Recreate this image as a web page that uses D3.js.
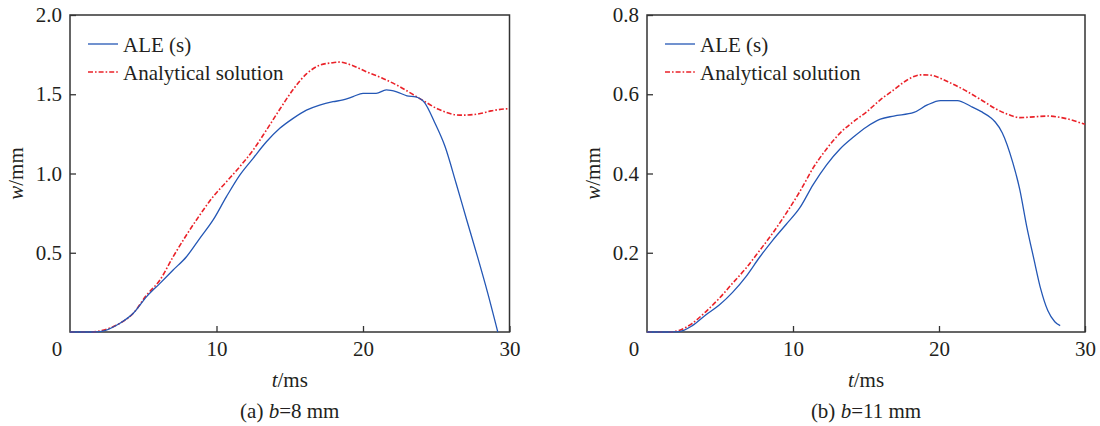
<!DOCTYPE html>
<html>
<head>
<meta charset="utf-8">
<script src="https://cdn.jsdelivr.net/npm/d3@7"></script>
<style>
  html, body { margin: 0; padding: 0; background: #fff; }
  svg { display: block; font-family: "Liberation Serif", "Times New Roman", serif; }
</style>
</head>
<body>
<svg id="chart" width="1100" height="426"></svg>
<script>
// Panel (a): b = 8 mm
const aleTimeA = [0, 1.5, 2.05, 3.41, 4.32, 5.23, 6.14, 7.04, 7.95, 8.86, 9.77, 10.68, 11.59, 12.5, 13.41, 14.32, 15.23, 16.14, 17.04, 17.95, 18.64, 19.32, 20.0, 20.9, 21.59, 22.3, 23.0, 23.6, 24.2, 24.9, 25.6, 26.35, 27.07, 27.8, 28.5, 29.2];
const aleValA  = [0, 0, 0.002, 0.055, 0.118, 0.223, 0.307, 0.391, 0.475, 0.591, 0.707, 0.854, 0.99, 1.096, 1.2, 1.285, 1.348, 1.40, 1.432, 1.453, 1.464, 1.485, 1.506, 1.506, 1.527, 1.515, 1.49, 1.483, 1.447, 1.32, 1.17, 0.94, 0.71, 0.48, 0.25, 0];
const anaTimeA = [0, 1.5, 2.05, 3.41, 4.32, 5.23, 6.14, 7.04, 7.95, 8.86, 9.77, 10.68, 11.59, 12.5, 13.41, 14.32, 15.23, 16.14, 17.04, 17.95, 18.4, 19.32, 20.23, 21.36, 22.5, 23.96, 25.16, 26.35, 26.8, 28.0, 28.75, 30.0];
const anaValA  = [0, 0, 0.007, 0.055, 0.118, 0.233, 0.328, 0.475, 0.612, 0.738, 0.854, 0.948, 1.043, 1.148, 1.274, 1.405, 1.53, 1.628, 1.683, 1.699, 1.703, 1.68, 1.642, 1.60, 1.548, 1.468, 1.405, 1.37, 1.368, 1.378, 1.395, 1.41];

// Panel (b): b = 11 mm
const aleTimeB = [0, 1.5, 2.19, 3.1, 4.02, 4.95, 5.86, 6.78, 7.7, 8.62, 9.54, 10.46, 11.38, 12.3, 13.22, 14.14, 15.06, 15.98, 16.9, 18.28, 19.2, 20.1, 21.26, 22.2, 22.9, 23.5, 23.85, 24.33, 25.05, 25.53, 26.0, 26.5, 26.97, 27.45, 27.93, 28.3];
const aleValB  = [0, 0, 0.001, 0.016, 0.043, 0.068, 0.1, 0.14, 0.188, 0.232, 0.272, 0.313, 0.372, 0.422, 0.462, 0.492, 0.518, 0.537, 0.545, 0.554, 0.573, 0.584, 0.584, 0.569, 0.556, 0.542, 0.53, 0.503, 0.428, 0.36, 0.268, 0.184, 0.108, 0.054, 0.026, 0.016];
const anaTimeB = [0, 1.5, 2.19, 3.1, 4.02, 4.95, 5.86, 6.78, 7.7, 8.62, 9.54, 10.46, 11.38, 12.3, 13.22, 14.14, 15.06, 15.98, 16.9, 17.82, 18.74, 19.43, 20.58, 21.73, 22.88, 23.9, 24.8, 25.53, 26.5, 27.45, 28.4, 30.0];
const anaValB  = [0, 0, 0.004, 0.022, 0.051, 0.085, 0.123, 0.161, 0.205, 0.25, 0.30, 0.354, 0.414, 0.462, 0.502, 0.531, 0.556, 0.586, 0.611, 0.636, 0.649, 0.648, 0.632, 0.611, 0.586, 0.563, 0.548, 0.541, 0.543, 0.545, 0.541, 0.524];

const xTicks = [10, 20, 30];
const yTicksA = [0.5, 1.0, 1.5, 2.0];
const yTicksB = [0.2, 0.4, 0.6, 0.8];
const legendLabels = ["ALE (s)", "Analytical solution"];

const svg = d3.select("#chart");
const FONT = 21;
const INK = "#231f20";
const BLUE = "#2457b5";
const RED = "#ea2229";
const RED_DASH = "5,2,1.6,2";

function zip(ts, vs) { return ts.map((t, i) => [t, vs[i]]); }

function panel(opts) {
  const { left, right, top, bottom, yMax, yTicks, yFmt, ale, ana, tag, bVal } = opts;
  const g = svg.append("g");
  const x = d3.scaleLinear().domain([0, 30]).range([left, right]);
  const y = d3.scaleLinear().domain([0, yMax]).range([bottom, top]);

  // frame
  g.append("rect").attr("x", left).attr("y", top).attr("width", right - left).attr("height", bottom - top)
    .attr("fill", "none").attr("stroke", "#333").attr("stroke-width", 1.5);

  // curves, clipped just outside the box so the baseline segments stay visible
  const clipId = "clip-" + tag;
  svg.append("defs").append("clipPath").attr("id", clipId)
    .append("rect").attr("x", left).attr("y", top).attr("width", right - left).attr("height", bottom - top + 1.5);

  const line = d3.line().x(d => x(d[0])).y(d => y(d[1])).curve(d3.curveMonotoneX);

  const plot = g.append("g").attr("clip-path", `url(#${clipId})`);
  plot.append("path").datum(ana).attr("d", line)
    .attr("fill", "none").attr("stroke", RED).attr("stroke-width", 1.6)
    .attr("stroke-dasharray", RED_DASH);
  plot.append("path").datum(ale).attr("d", line)
    .attr("fill", "none").attr("stroke", BLUE).attr("stroke-width", 1.3);

  // bottom axis with inward ticks
  const xAxis = d3.axisBottom(x).tickValues(xTicks).tickSizeInner(-6).tickSizeOuter(0).tickPadding(9)
    .tickFormat(d3.format("d"));
  const xa = g.append("g").attr("transform", `translate(0,${bottom})`).call(xAxis);
  xa.select(".domain").remove();
  xa.selectAll(".tick line").attr("stroke", "#333").attr("stroke-width", 1.3);
  xa.selectAll(".tick text").attr("font-size", FONT).attr("fill", INK)
    .attr("font-family", "Liberation Serif");

  // shared origin label
  g.append("text").attr("x", left - 13).attr("y", bottom + 24)
    .attr("text-anchor", "middle").attr("font-size", FONT).attr("fill", INK).text("0");

  // left axis with inward ticks
  const yAxis = d3.axisLeft(y).tickValues(yTicks).tickSizeInner(-6).tickSizeOuter(0).tickPadding(8)
    .tickFormat(yFmt);
  const ya = g.append("g").attr("transform", `translate(${left},0)`).call(yAxis);
  ya.select(".domain").remove();
  ya.selectAll(".tick line").attr("stroke", "#333").attr("stroke-width", 1.3);
  ya.selectAll(".tick text").attr("font-size", FONT).attr("fill", INK)
    .attr("font-family", "Liberation Serif");

  // axis titles
  const xt = g.append("text").attr("x", (left + right) / 2).attr("y", 387)
    .attr("text-anchor", "middle").attr("font-size", FONT).attr("fill", INK);
  xt.append("tspan").attr("font-style", "italic").text("t");
  xt.append("tspan").text("/ms");

  const yt = g.append("text")
    .attr("transform", `translate(${left - 47},${(top + bottom) / 2}) rotate(-90)`)
    .attr("text-anchor", "middle").attr("font-size", FONT).attr("fill", INK);
  yt.append("tspan").attr("font-style", "italic").text("w");
  yt.append("tspan").text("/mm");

  // caption
  const cap = g.append("text").attr("x", (left + right) / 2).attr("y", 418)
    .attr("text-anchor", "middle").attr("font-size", FONT).attr("fill", INK);
  cap.append("tspan").text(`(${tag}) `);
  cap.append("tspan").attr("font-style", "italic").text("b");
  cap.append("tspan").text(`=${bVal} mm`);

  // legend
  const lx = left + 18;
  const leg = g.append("g");
  const rows = [
    { label: legendLabels[0], color: BLUE, dash: null, w: 1.3, yy: 44 },
    { label: legendLabels[1], color: RED, dash: RED_DASH, w: 1.6, yy: 72 }
  ];
  rows.forEach(r => {
    leg.append("line").attr("x1", lx).attr("x2", lx + 30).attr("y1", r.yy).attr("y2", r.yy)
      .attr("stroke", r.color).attr("stroke-width", r.w)
      .attr("stroke-dasharray", r.dash);
    leg.append("text").attr("x", lx + 35).attr("y", r.yy + 7.5)
      .attr("font-size", FONT).attr("fill", INK).text(r.label);
  });
}

panel({
  left: 70, right: 509.5, top: 15, bottom: 332, yMax: 2.0,
  yTicks: yTicksA, yFmt: d3.format(".1f"),
  ale: zip(aleTimeA, aleValA), ana: zip(anaTimeA, anaValA), tag: "a", bVal: 8
});
panel({
  left: 647, right: 1085, top: 15, bottom: 332, yMax: 0.8,
  yTicks: yTicksB, yFmt: d3.format(".1f"),
  ale: zip(aleTimeB, aleValB), ana: zip(anaTimeB, anaValB), tag: "b", bVal: 11
});
</script>
</body>
</html>
